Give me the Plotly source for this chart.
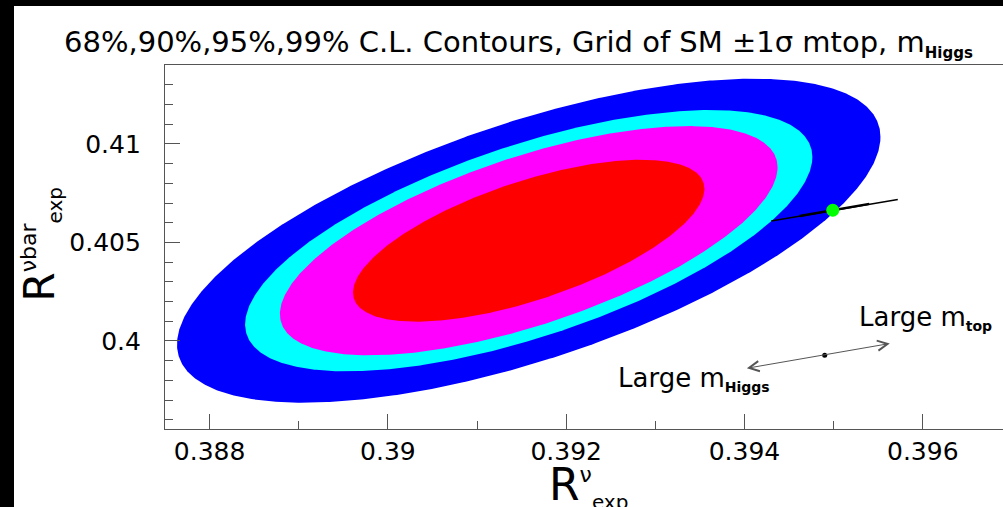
import numpy as np
import plotly.graph_objects as go

# ---- data ----
cl_labels = ["99%", "95%", "90%", "68%"]
delta_chi2 = [9.21, 5.99, 4.61, 2.30]          # 2-dof Δχ² for each C.L.
cl_colors = ["#0000ff", "#00ffff", "#ff00ff", "#ff0000"]
center_x, center_y = 0.39158, 0.40509          # fit centre (R^nu, R^nubar)
sigma_x, sigma_y, rho = 0.00130, 0.00271, 0.64

sm_line_x = [0.39430, 0.39572]                 # SM grid (mtop, mHiggs) line
sm_line_y = [0.40609, 0.40718]
sm_thick_x = [0.39462, 0.39540]
sm_thick_y = [0.40634, 0.40696]
sm_point_x = [0.39499]                         # SM central point
sm_point_y = [0.406635]

arrow_left = (0.39401, 0.39860)                # "Large m_Higgs" direction
arrow_right = (0.39563, 0.39987)               # "Large m_top" direction
arrow_dot_x = [0.39490]
arrow_dot_y = [0.39927]

x_ticks = [0.388, 0.39, 0.392, 0.394, 0.396]
x_ticktext = ["0.388", "0.39", "0.392", "0.394", "0.396"]
y_ticks = [0.40, 0.405, 0.41]
y_ticktext = ["0.4", "0.405", "0.41"]
x_range = [0.3875, 0.39690]
y_range = [0.39553, 0.41401]

# ---- layout geometry (pixels) ----
W, H = 1003, 507
ML, MR, MT, MB = 165, 0, 65, 78
PW, PH = W - ML - MR, H - MT - MB


def px(x):
    return (x - ML) / PW


def py(y):
    return (H - MB - y) / PH


FONT = "DejaVu Sans"
fig = go.Figure()

t = np.linspace(0, 2 * np.pi, 721)
for lab, d2, col in zip(cl_labels, delta_chi2, cl_colors):
    k = np.sqrt(d2)
    ex = center_x + k * sigma_x * np.cos(t)
    ey = center_y + k * sigma_y * (rho * np.cos(t) + np.sqrt(1 - rho ** 2) * np.sin(t))
    fig.add_trace(go.Scatter(x=ex, y=ey, mode="lines", fill="toself",
                             fillcolor=col, line=dict(width=0, color=col),
                             name=lab, hoverinfo="skip"))

fig.add_trace(go.Scatter(x=sm_line_x, y=sm_line_y, mode="lines",
                         line=dict(color="black", width=1.5), hoverinfo="skip"))
fig.add_trace(go.Scatter(x=sm_thick_x, y=sm_thick_y, mode="lines",
                         line=dict(color="black", width=2.5), hoverinfo="skip"))
fig.add_trace(go.Scatter(x=sm_point_x, y=sm_point_y, mode="markers",
                         marker=dict(color="#00ff00", size=13), hoverinfo="skip"))
fig.add_trace(go.Scatter(x=arrow_dot_x, y=arrow_dot_y, mode="markers",
                         marker=dict(color="black", size=5), hoverinfo="skip"))

fig.add_annotation(x=arrow_right[0], y=arrow_right[1], ax=arrow_left[0], ay=arrow_left[1],
                   xref="x", yref="y", axref="x", ayref="y", text="", showarrow=True,
                   arrowside="end+start", arrowhead=5, startarrowhead=5,
                   arrowsize=2, startarrowsize=2, arrowwidth=1, arrowcolor="#555555")

sub_style = "font-size:14px"
fig.add_annotation(x=px(518), y=py(43), xref="paper", yref="paper", showarrow=False,
                   xanchor="center", yanchor="middle",
                   text="68%,90%,95%,99% C.L. Contours, Grid of SM \u00b11\u03c3 mtop, m"
                        f"<sub><span style='font-size:15px'><b>Higgs</b></span></sub>",
                   font=dict(family=FONT, size=29, color="black"))
fig.add_annotation(x=px(616), y=py(379), xref="paper", yref="paper", showarrow=False,
                   xanchor="left", yanchor="middle",
                   text=f"Large m<sub><span style='{sub_style}'><b>Higgs</b></span></sub>",
                   font=dict(family=FONT, size=26, color="black"))
fig.add_annotation(x=px(857), y=py(318), xref="paper", yref="paper", showarrow=False,
                   xanchor="left", yanchor="middle",
                   text=f"Large m<sub><span style='{sub_style}'><b>top</b></span></sub>",
                   font=dict(family=FONT, size=26, color="black"))

# axis titles
fig.add_annotation(x=px(588), y=py(457), xref="paper", yref="paper", showarrow=False,
                   xanchor="center", yanchor="top",
                   text="R<sup><span style='font-size:22px'>\u03bd</span></sup>"
                        "<sub><span style='font-size:20px'>exp</span></sub>",
                   font=dict(family=FONT, size=44, color="black"))
fig.add_annotation(x=px(12), y=py(245), xref="paper", yref="paper", showarrow=False,
                   xanchor="left", yanchor="middle", textangle=-90,
                   text="R<sup><span style='font-size:22px'>\u03bdbar</span></sup>"
                        "<sub><span style='font-size:20px'>exp</span></sub>",
                   font=dict(family=FONT, size=42, color="black"))

# black frame bands (top and left) of the original canvas
fig.add_shape(type="rect", xref="paper", yref="paper", x0=px(0), x1=px(14),
              y0=py(H), y1=py(0), fillcolor="black", line_width=0, layer="above")
fig.add_shape(type="rect", xref="paper", yref="paper", x0=px(0), x1=px(W),
              y0=py(6), y1=py(0), fillcolor="black", line_width=0, layer="above")

axis_common = dict(showgrid=False, zeroline=False, showline=True, linecolor="#555555",
                   linewidth=1.2, ticks="inside", ticklen=15, tickcolor="#555555",
                   tickwidth=1, tickfont=dict(family=FONT, size=25, color="black"))
fig.update_xaxes(range=x_range, tickvals=x_ticks, ticktext=x_ticktext, mirror=True,
                 minor=dict(ticks="inside", ticklen=8, dtick=0.001, tick0=0.388,
                            tickcolor="#555555"),
                 ticklabelstandoff=0, **axis_common)
fig.update_yaxes(range=y_range, tickvals=y_ticks, ticktext=y_ticktext,
                 minor=dict(ticks="inside", ticklen=8, dtick=0.001, tick0=0.4,
                            tickcolor="#555555"),
                 ticklabelstandoff=18, **axis_common)

fig.update_layout(width=W, height=H, margin=dict(l=ML, r=MR, t=MT, b=MB),
                  paper_bgcolor="white", plot_bgcolor="white", showlegend=False)

fig.write_html("out.html")
